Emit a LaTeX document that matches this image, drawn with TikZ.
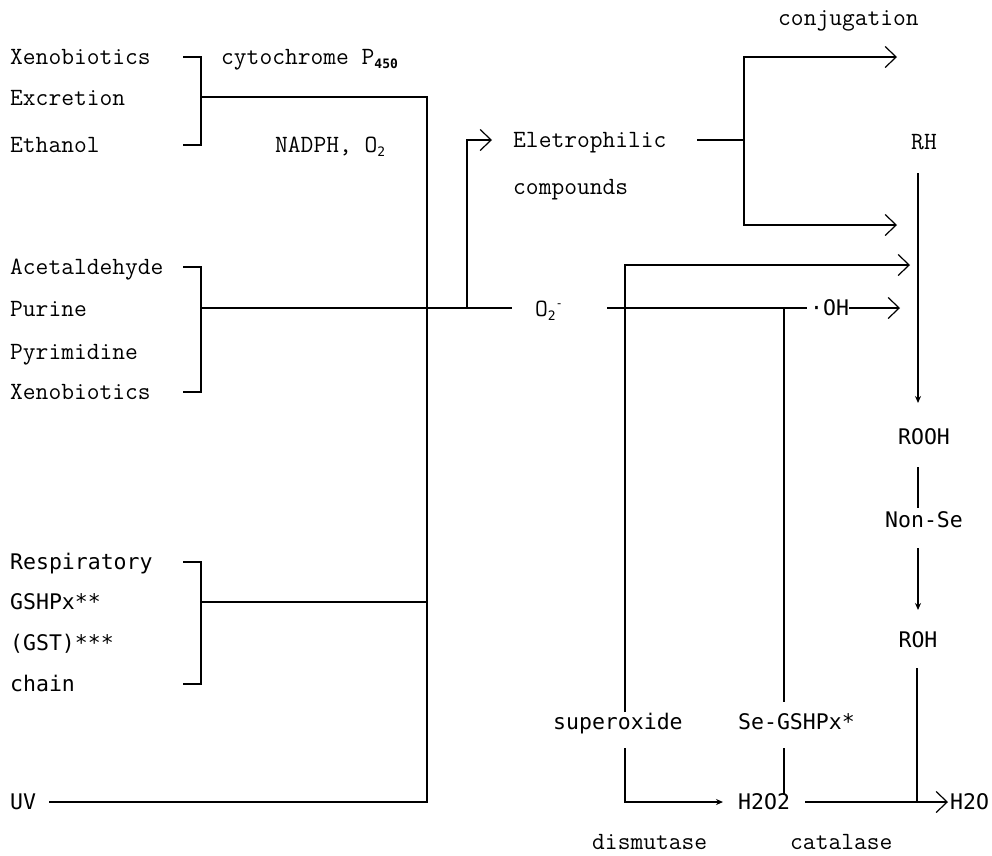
\documentclass[tikz,border=0pt]{standalone}
\usepackage{fontspec}
\newfontfamily\sansmono{DejaVu Sans Mono}
\usetikzlibrary{arrows.meta}

\tikzset{
  lbl/.style={inner sep=0pt, text height=15pt, text depth=0pt,
    font=\ttfamily\fontsize{24.8}{28}\selectfont},
  lbs/.style={lbl, font=\sansmono\fontsize{21.5}{24}\selectfont},
  wire/.style={line width=1.2pt},
  chev/.style={wire, -{Straight Barb[length=11pt,width=21pt]}},
  tip/.style={wire, -{Stealth[length=7pt,width=6pt]}},
}
\newcommand{\lowsub}[1]{\raisebox{-4pt}{\sansmono\fontsize{13}{13}\selectfont #1}}

\begin{document}
\begin{tikzpicture}[x=1pt,y=-1pt]
  \useasboundingbox (0,0) rectangle (992,855);

  % sources
  \node[lbl, anchor=west] (xenA) at (10,57) {Xenobiotics};
  \node[lbl, anchor=west] (excr) at (10,98) {Excretion};
  \node[lbl, anchor=west] (ethanol) at (10,145) {Ethanol};
  \node[lbl, anchor=west] (acet) at (10,267) {Acetaldehyde};
  \node[lbl, anchor=west] (purine) at (10,309) {Purine};
  \node[lbl, anchor=west] (pyrim) at (10,352) {Pyrimidine};
  \node[lbl, anchor=west] (xenB) at (10,392) {Xenobiotics};
  \node[lbs, anchor=west] (resp) at (10,562) {Respiratory};
  \node[lbs, anchor=west] (gshpx) at (10,602) {GSHPx**};
  \node[lbs, anchor=west] (gst) at (10,643) {(GST)***};
  \node[lbs, anchor=west] (chain) at (10,684) {chain};
  \node[lbs, anchor=west] (uv) at (10,802) {UV};

  \node[lbl, anchor=west] (cyto) at (221,57) {cytochrome P\raisebox{-4pt}{\sansmono\bfseries\fontsize{13}{13}\selectfont 450}};
  \node[lbl, anchor=west] (nadph) at (275,145) {NADPH, O\lowsub{2}};

  % products
  \node[lbl, anchor=west] (elec) at (513,140) {Eletrophilic};
  \node[lbl, anchor=west] (comp) at (513,187) {compounds};
  \node[lbl, anchor=west] (conj) at (778,18) {conjugation};
  \node[lbl] (o2) at (549,309) {O\lowsub{2}\raisebox{9pt}{\sansmono\fontsize{12}{12}\selectfont -}};
  \node[lbs, anchor=west] (oh) at (810,308) {·OH};
  \node[lbl] (rh) at (924,142) {RH};
  \node[lbs] (rooh) at (924,437) {ROOH};
  \node[lbs] (nonse) at (924,520) {Non-Se};
  \node[lbs] (roh) at (918,640) {ROH};
  \node[lbs, anchor=west] (superox) at (553,722) {superoxide};
  \node[lbs, anchor=west] (segsh) at (738,722) {Se-GSHPx*};
  \node[lbs, anchor=west] (h2o2) at (738,802) {H2O2};
  \node[lbs, anchor=west] (h2o) at (950,802) {H2O};
  \node[lbl, anchor=west] (dism) at (592,842) {dismutase};
  \node[lbl, anchor=west] (catal) at (790,842) {catalase};

  % junction points
  \coordinate (bA1) at (183,57);  \coordinate (bA2) at (201,57);
  \coordinate (bA3) at (201,145); \coordinate (bA4) at (183,145);
  \coordinate (bAm) at (201,97);
  \coordinate (bB1) at (183,267); \coordinate (bB2) at (201,267);
  \coordinate (bB3) at (201,392); \coordinate (bB4) at (183,392);
  \coordinate (bBm) at (201,308);
  \coordinate (bC1) at (183,562); \coordinate (bC2) at (201,562);
  \coordinate (bC3) at (201,684); \coordinate (bC4) at (183,684);
  \coordinate (bCm) at (201,602);
  \coordinate (spTop) at (427,97);
  \coordinate (spMid) at (427,602);
  \coordinate (spBot) at (427,802);
  \coordinate (uvEnd) at (49,802);
  \coordinate (o2In) at (512,308);
  \coordinate (o2Out) at (607,308);
  \coordinate (ohIn) at (807,308);
  \coordinate (brA) at (467,308);
  \coordinate (brB) at (467,140);
  \coordinate (brC) at (492,140);
  \coordinate (cjA) at (697,140);
  \coordinate (cjB) at (744,140);
  \coordinate (cjT) at (744,57);
  \coordinate (cjTe) at (897,57);
  \coordinate (cjL) at (744,225);
  \coordinate (cjLe) at (897,225);
  \coordinate (ohEnd) at (900,308);
  \coordinate (soTop) at (625,265);
  \coordinate (soTopE) at (910,265);
  \coordinate (soA) at (625,712);
  \coordinate (soB) at (625,748);
  \coordinate (soC) at (625,802);
  \coordinate (soD) at (723,802);
  \coordinate (seA) at (784,308);
  \coordinate (seB) at (784,702);
  \coordinate (seC) at (784,748);
  \coordinate (seD) at (784,795);
  \coordinate (rA) at (918,173);  \coordinate (rB) at (918,403);
  \coordinate (rC) at (918,467);  \coordinate (rD) at (918,508);
  \coordinate (rE) at (918,548);  \coordinate (rF) at (918,610);
  \coordinate (rG) at (917,668);  \coordinate (rH) at (917,802);
  \coordinate (wA) at (805,802);  \coordinate (wB) at (948,802);

  % brackets and the main trunk
  \draw[wire] (bA1) -- (bA2) -- (bA3) -- (bA4);
  \draw[wire] (bB1) -- (bB2) -- (bB3) -- (bB4);
  \draw[wire] (bC1) -- (bC2) -- (bC3) -- (bC4);
  \draw[wire] (bAm) -- (spTop) -- (spBot) -- (uvEnd);
  \draw[wire] (bCm) -- (spMid);
  \draw[wire] (bBm) -- (o2In);
  \draw[wire] (o2Out) -- (ohIn);
  \draw[chev] (brA) -- (brB) -- (brC);

  % electrophiles
  \draw[wire] (cjA) -- (cjB);
  \draw[chev] (cjB) -- (cjT) -- (cjTe);
  \draw[chev] (cjB) -- (cjL) -- (cjLe);

  % radicals
  \draw[chev] (oh.east) -- (ohEnd);
  \draw[chev] (soA) -- (soTop) -- (soTopE);
  \draw[tip] (soB) -- (soC) -- (soD);
  \draw[wire] (seA) -- (seB);
  \draw[wire] (seC) -- (seD);
  \draw[chev] (wA) -- (wB);

  % lipid peroxides
  \draw[tip] (rA) -- (rB);
  \draw[wire] (rC) -- (rD);
  \draw[tip] (rE) -- (rF);
  \draw[wire] (rG) -- (rH);
\end{tikzpicture}
\end{document}
